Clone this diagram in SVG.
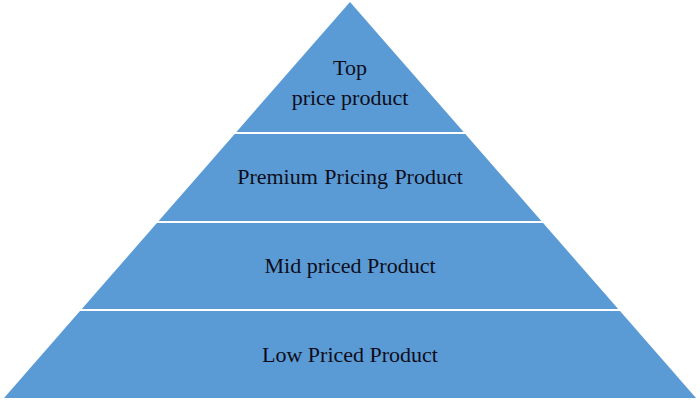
<svg xmlns="http://www.w3.org/2000/svg" width="700" height="400" viewBox="0 0 700 400">
<style>
.tier{fill:#5B9BD5;stroke:none}
.lbl{font-family:"Liberation Serif","Times New Roman",serif;font-size:22px;fill:#0d0d1a;text-anchor:middle}
</style>
<rect width="700" height="400" fill="#ffffff"/>
<g id="tier-top">
<polygon class="tier" points="350,2 463.6,132 236.4,132"/>
<text class="lbl" x="350" y="75">Top</text>
<text class="lbl" x="350" y="105">price product</text>
</g>
<g id="tier-premium">
<polygon class="tier" points="234.7,134 465.3,134 541.35,221 158.65,221"/>
<text class="lbl" x="350" y="184" word-spacing="1">Premium Pricing Product</text>
</g>
<g id="tier-mid">
<polygon class="tier" points="156.9,223 543.1,223 618.2,309 81.8,309"/>
<text class="lbl" x="350" y="273">Mid priced Product</text>
</g>
<g id="tier-low">
<polygon class="tier" points="80,311 620,311 696,398 4,398"/>
<text class="lbl" x="350" y="362">Low Priced Product</text>
</g>
<g id="connectors"></g>
</svg>
